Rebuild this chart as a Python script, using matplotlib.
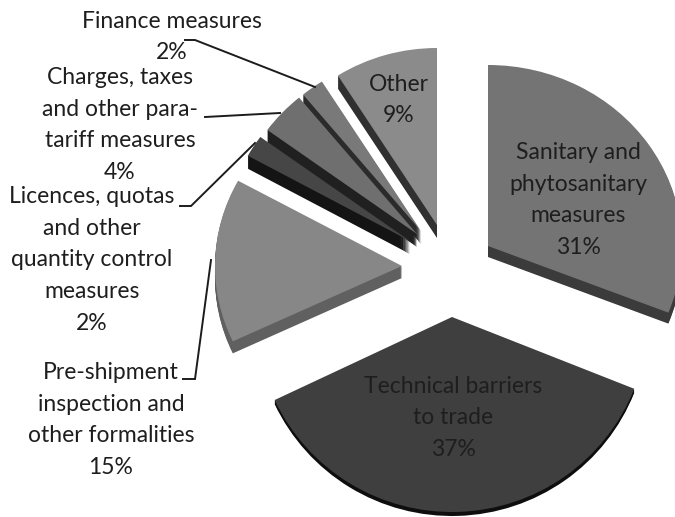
import matplotlib
matplotlib.use('Agg')
import matplotlib.pyplot as plt
from matplotlib.transforms import Affine2D

H = 517

# Data
labels = ['Sanitary and\nphytosanitary\nmeasures', 'Technical barriers\nto trade',
          'Pre-shipment\ninspection and\nother formalities',
          'Licences, quotas\nand other\nquantity control\nmeasures',
          'Charges, taxes\nand other para-\ntariff measures', 'Finance measures', 'Other']
values = [31, 37, 15, 2, 4, 2, 9]

# Each slice is pulled out by hand, in picture pixels (x, y from the top)
apex = [(488, 246), (452, 317), (402, 266), (410, 241), (417, 234), (421, 231), (437, 225)]
radius_x = [194, 196, 187, 185, 185, 185, 185]
radius_y = [181, 195, 177, 177, 177, 177, 177]
depth = [11, 4, 12, 13, 13, 13, 13]
top_colors = ['#747474', '#3f3f3f', '#878787', '#464646', '#6f6f6f', '#797979', '#8b8b8b']
side_colors = ['#3b3b3b', '#0e0e0e', '#606060', '#141414', '#202020', '#2b2b2b', '#303030']

label_pos = [(578, 200), (453, 418), (111, 420), (92, 260), (120, 125), (172, 37), (399, 100)]
text_size = 16.5

plt.rcParams['font.family'] = ['Lato', 'DejaVu Sans']

fig = plt.figure(figsize=(6.75, 5.17), dpi=100)
ax = fig.add_axes([0, 0, 1, 1])


def draw_layer(colors, drop):
    wedges, _ = ax.pie(values, colors=colors, startangle=90, counterclock=False)
    for i, w in enumerate(wedges):
        if drop > depth[i]:
            w.set_visible(False)
            continue
        cx, cy = apex[i][0], H - apex[i][1] - drop
        w.set_center((cx, cy))
        w.set_radius(radius_x[i])
        squash = Affine2D().translate(-cx, -cy).scale(1, radius_y[i] / radius_x[i]).translate(cx, cy)
        w.set_transform(squash + ax.transData)
        w.set_linewidth(0)


# side of the slices, stacked from the bottom up
for drop in range(max(depth), 0, -1):
    draw_layer(side_colors, drop)
draw_layer(top_colors, 0)

ax.set_xlim(0, 675)
ax.set_ylim(0, H)
ax.set_aspect('auto')
ax.axis('off')

# leader lines
leaders = [
    ([185, 195, 315], [40, 40, 87]),
    ([205, 280], [117, 113]),
    ([180, 191, 255], [206, 206, 143]),
    ([183, 195, 211], [379, 379, 260]),
]
for xs, ys in leaders:
    ax.plot(xs, [H - y for y in ys], color='#1c1c1c', lw=1.4, solid_joinstyle='miter')

for name, val, (x, y) in zip(labels, values, label_pos):
    ax.text(x, H - y, f'{name}\n{val}%', ha='center', va='center', fontsize=text_size,
            color='#1e1e1e', linespacing=1.64)

fig.savefig('out.png', dpi=100, facecolor='white')
